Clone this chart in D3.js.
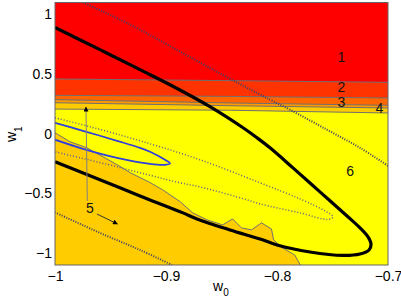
<!DOCTYPE html>
<html><head><meta charset="utf-8">
<script src="https://cdn.jsdelivr.net/npm/d3@7"></script>
<style>body{margin:0;background:#fff}svg{display:block}text{font-family:"Liberation Sans",Arial,Helvetica,sans-serif}</style>
</head><body><svg id="c" width="401" height="300"></svg>
<script>
// ---- axes ----
const w0Domain = [-1, -0.7];
const w1Domain = [-1.1, 1.1];
const w0Ticks = [-1, -0.9, -0.8, -0.7];
const w1Ticks = [-1, -0.5, 0, 0.5, 1];

// ---- filled contour levels (autumn colormap) ----
const levelNames = ["1", "2", "3", "4", "5", "6"];
const levelColors = ["#FF0000", "#FF3300", "#FF6600", "#FF9900", "#FFCC00", "#FFFF00"];

// nearly horizontal level boundaries, sampled at bandW0
const bandW0 = [-1, -0.842, -0.7];
const boundary12 = [0.459, 0.445, 0.431];
const boundary23 = [0.322, 0.313, 0.300];
const boundary34 = [0.286, 0.258, 0.238];
const boundary45 = [0.260, 0.235, 0.216];
const boundary56 = [0.207, 0.197, 0.174];

// level-5 region in the lower left (boundary against level 6)
const region5W0 = [-1, -0.9865, -0.9712, -0.9568, -0.944, -0.932, -0.914, -0.903, -0.887, -0.876, -0.863, -0.849, -0.840, -0.832, -0.823, -0.814, -0.805, -0.803, -0.795, -0.784, -0.779];
const region5W1 = [0.008, -0.067, -0.118, -0.193, -0.260, -0.328, -0.411, -0.470, -0.571, -0.663, -0.722, -0.764, -0.714, -0.789, -0.806, -0.747, -0.798, -0.890, -0.957, -1.016, -1.100];

// blue contour
const blueW0 = [-1, -0.9748, -0.9441, -0.9234, -0.9144, -0.9009, -0.8964, -0.9009, -0.9144, -0.9441, -0.9748, -1];
const blueW1 = [0.092, 0.025, -0.059, -0.118, -0.151, -0.218, -0.248, -0.260, -0.252, -0.2015, -0.126, -0.050];

// dotted contours
const outerUpperW0 = [-0.9748, -0.9324, -0.8577, -0.8063, -0.7883, -0.755, -0.7252, -0.7];
const outerUpperW1 = [1.1, 0.915, 0.537, 0.2855, 0.2015, 0.034, -0.118, -0.269];
const outerLowerW0 = [-1, -0.9595, -0.9234, -0.8946];
const outerLowerW1 = [-0.659, -0.831, -0.974, -1.1];
const innerW0 = [-1, -0.9685, -0.9234, -0.8694, -0.8153, -0.7793, -0.7568, -0.7495, -0.7541, -0.7793, -0.8153, -0.827, -0.8694, -0.8874, -0.9441, -1];
const innerW1 = [0.134, 0.059, -0.059, -0.218, -0.411, -0.546, -0.647, -0.697, -0.718, -0.663, -0.588, -0.554, -0.445, -0.411, -0.277, -0.151];

// thick black ellipse
const ellipseW0 = [-1, -0.9595, -0.9234, -0.8964, -0.8604, -0.8306, -0.818, -0.8063, -0.7856, -0.7613, -0.7369, -0.7252, -0.718, -0.7153, -0.7171, -0.7252, -0.7405, -0.7703, -0.800, -0.8153, -0.8423, -0.8721, -0.8847, -0.9234, -0.9595, -1];
const ellipseW1 = [0.890, 0.705, 0.537, 0.411, 0.227, 0.050, -0.034, -0.118, -0.286, -0.487, -0.689, -0.789, -0.865, -0.924, -0.974, -1.008, -1.020, -0.991, -0.932, -0.882, -0.806, -0.714, -0.663, -0.521, -0.386, -0.235];

// region labels
const labelTexts = ["1", "2", "3", "4", "5", "6"];
const labelW0 = [-0.742, -0.742, -0.742, -0.7078, -0.9685, -0.7342];
const labelW1 = [0.646, 0.389, 0.264, 0.213, -0.622, -0.310];

// annotation arrows for label 5
const arrowFromW0 = [-0.9709, -0.9622];
const arrowFromW1 = [-0.564, -0.673];
const arrowToW0 = [-0.9721, -0.9437];
const arrowToW1 = [0.224, -0.756];
const arrowColors = ["#808080", "#333333"];

// ---- drawing ----
const svg = d3.select("#c");
const x = d3.scaleLinear().domain(w0Domain).range([55, 388]);
const y = d3.scaleLinear().domain(w1Domain).range([265, 2.5]);

svg.append("defs").append("clipPath").attr("id", "clip")
  .append("rect").attr("x", x(w0Domain[0])).attr("y", y(w1Domain[1]))
  .attr("width", x(w0Domain[1]) - x(w0Domain[0])).attr("height", y(w1Domain[0]) - y(w1Domain[1]));
svg.select("defs").append("marker").attr("id", "ah").attr("viewBox", "0 0 10 10")
  .attr("refX", 9).attr("refY", 5).attr("markerWidth", 6).attr("markerHeight", 5)
  .attr("markerUnits", "userSpaceOnUse").attr("orient", "auto")
  .append("path").attr("d", "M0,0L10,5L0,10z").attr("fill", "#000");

const plot = svg.append("g").attr("clip-path", "url(#clip)");
const zip = (a, b) => a.map((v, i) => [v, b[i]]);
const line = d3.line().x(d => x(d[0])).y(d => y(d[1]));
const smooth = d3.line().x(d => x(d[0])).y(d => y(d[1])).curve(d3.curveCatmullRom.alpha(0.5));

// level 6 background
plot.append("rect").attr("x", x(w0Domain[0])).attr("y", y(w1Domain[1]))
  .attr("width", x(w0Domain[1]) - x(w0Domain[0])).attr("height", y(w1Domain[0]) - y(w1Domain[1]))
  .attr("fill", levelColors[5]);

// level 5 lower-left region
const r5 = zip(region5W0, region5W1);
plot.append("path").attr("d", line(r5.concat([[w0Domain[0], w1Domain[0]]])) + "Z")
  .attr("fill", levelColors[4]);

// bands from the top
const boundaries = [boundary56, boundary45, boundary34, boundary23, boundary12];
const bandFill = [levelColors[4], levelColors[3], levelColors[2], levelColors[1], levelColors[0]];
const area = d3.area().x(d => x(d[0])).y0(y(w1Domain[1])).y1(d => y(d[1]));
boundaries.forEach((b, i) => {
  plot.append("path").attr("d", area(zip(bandW0, b))).attr("fill", bandFill[i]);
});
// contour lines (grey)
boundaries.forEach(b => {
  plot.append("path").attr("d", line(zip(bandW0, b))).attr("fill", "none")
    .attr("stroke", "#707070").attr("stroke-width", 1);
});
plot.append("path").attr("d", line(r5)).attr("fill", "none")
  .attr("stroke", "#707070").attr("stroke-width", 1);

// dotted contours
[[outerUpperW0, outerUpperW1], [outerLowerW0, outerLowerW1]].forEach(([a, b]) => {
  plot.append("path").attr("d", smooth(zip(a, b))).attr("fill", "none")
    .attr("stroke", "#3c4066").attr("stroke-width", 2).attr("stroke-dasharray", "1,1.5");
});
plot.append("path").attr("d", smooth(zip(innerW0, innerW1))).attr("fill", "none")
  .attr("stroke", "#5c6088").attr("stroke-width", 1.5).attr("stroke-dasharray", "1,2");

// blue contour
plot.append("path").attr("d", smooth(zip(blueW0, blueW1))).attr("fill", "none")
  .attr("stroke", "#3040dd").attr("stroke-width", 1.8);

// thick black ellipse
plot.append("path").attr("d", smooth(zip(ellipseW0, ellipseW1))).attr("fill", "none")
  .attr("stroke", "#000").attr("stroke-width", 3.2);

// annotation arrows
arrowFromW0.forEach((v, i) => {
  svg.append("line").attr("x1", x(v)).attr("y1", y(arrowFromW1[i]))
    .attr("x2", x(arrowToW0[i])).attr("y2", y(arrowToW1[i]))
    .attr("stroke", arrowColors[i]).attr("stroke-width", 1).attr("marker-end", "url(#ah)");
});

// region labels
labelTexts.forEach((t, i) => {
  svg.append("text").attr("x", x(labelW0[i])).attr("y", y(labelW1[i])).attr("dy", "0.36em")
    .attr("text-anchor", "middle").attr("font-size", 14).attr("fill", "#111").text(t);
});

// frame
svg.append("rect").attr("x", x(w0Domain[0])).attr("y", y(w1Domain[1]))
  .attr("width", x(w0Domain[1]) - x(w0Domain[0])).attr("height", y(w1Domain[0]) - y(w1Domain[1]))
  .attr("fill", "none").attr("stroke", "#666").attr("stroke-width", 1);

// axes
const fmt = d3.format("~g");
const gx = svg.append("g").attr("transform", `translate(0,${y(w1Domain[0])})`)
  .call(d3.axisBottom(x).tickValues(w0Ticks).tickSize(0).tickPadding(6).tickFormat(fmt));
const gy = svg.append("g").attr("transform", `translate(${x(w0Domain[0])},0)`)
  .call(d3.axisLeft(y).tickValues(w1Ticks).tickSize(0).tickPadding(3).tickFormat(fmt));
[gx, gy].forEach(g => {
  g.select(".domain").remove();
  g.attr("font-size", 14).attr("font-family", null);
  g.selectAll("text").attr("fill", "#000");
});

// axis titles
const xt = svg.append("text").attr("x", 213).attr("y", 291).attr("font-size", 14);
xt.append("tspan").text("w");
xt.append("tspan").attr("font-size", 10).attr("dy", 5).text("0");
const yt = svg.append("text").attr("transform", "translate(16,142) rotate(-90)").attr("font-size", 14);
yt.append("tspan").text("w");
yt.append("tspan").attr("font-size", 10).attr("dy", 6).text("1");
</script></body></html>
